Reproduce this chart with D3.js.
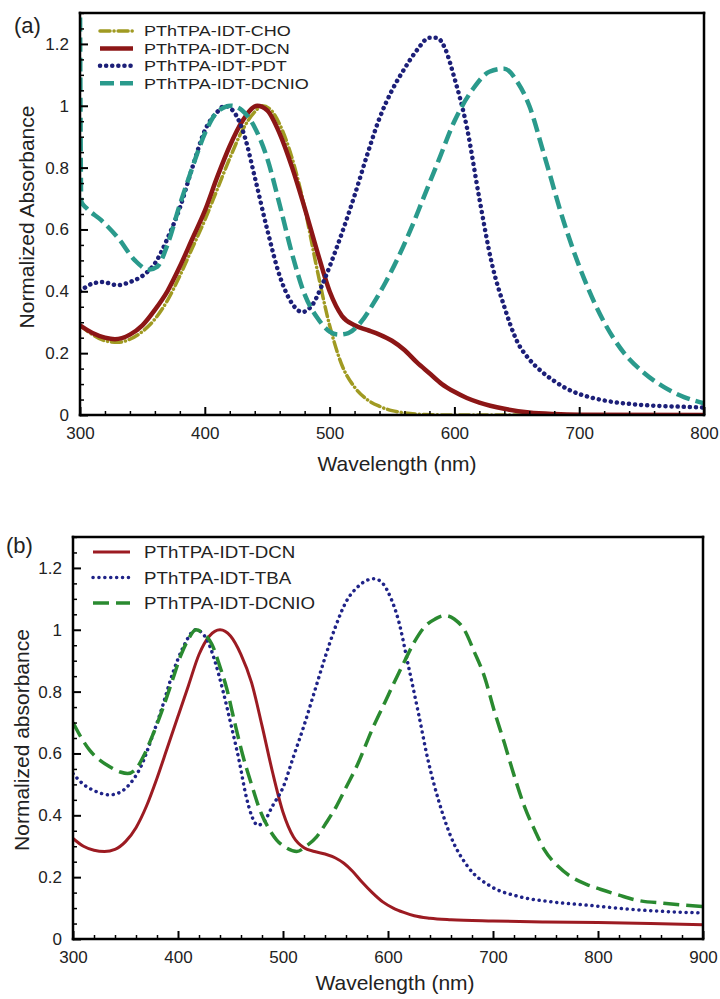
<!DOCTYPE html>
<html>
<head>
<meta charset="utf-8">
<script src="https://cdn.jsdelivr.net/npm/d3@7"></script>
<style>
  body { margin: 0; background: #fff; }
  svg text { font-family: "Liberation Sans", Arial, sans-serif; fill: #222; }
</style>
</head>
<body>
<script>
// ---- data: [wavelength nm, normalized absorbance]
const topCHO = [[300,0.29],[310,0.26],[320,0.24],[330,0.235],[340,0.245],[350,0.27],[360,0.31],[370,0.37],[380,0.45],[390,0.54],[400,0.63],[410,0.73],[420,0.83],[430,0.92],[440,0.98],[446,1.0],[452,0.99],[460,0.94],[470,0.83],[480,0.67],[490,0.47],[500,0.29],[510,0.16],[520,0.09],[530,0.05],[540,0.028],[550,0.014],[560,0.007],[575,0.002],[600,0],[800,0]]
const topDCN = [[300,0.29],[310,0.265],[320,0.25],[328,0.245],[340,0.26],[350,0.29],[360,0.34],[370,0.40],[380,0.48],[390,0.57],[400,0.66],[410,0.77],[420,0.87],[430,0.95],[442,1.0],[450,0.985],[460,0.91],[470,0.80],[480,0.67],[490,0.53],[500,0.40],[510,0.32],[520,0.29],[530,0.275],[540,0.26],[550,0.24],[560,0.21],[570,0.17],[580,0.135],[590,0.10],[600,0.075],[610,0.055],[620,0.04],[640,0.02],[660,0.008],[680,0.003],[700,0.001],[800,0]]
const topPDT = [[300,0.40],[310,0.425],[318,0.43],[330,0.42],[340,0.43],[350,0.45],[360,0.49],[370,0.57],[380,0.67],[390,0.80],[400,0.92],[410,0.98],[416,1.0],[425,0.97],[432,0.90],[440,0.77],[450,0.60],[460,0.45],[470,0.36],[478,0.333],[486,0.355],[494,0.42],[500,0.48],[510,0.59],[520,0.71],[530,0.84],[540,0.96],[550,1.05],[560,1.12],[570,1.18],[580,1.22],[586,1.22],[592,1.19],[600,1.09],[610,0.93],[620,0.70],[630,0.49],[640,0.35],[650,0.24],[660,0.18],[670,0.14],[680,0.11],[690,0.085],[700,0.068],[710,0.056],[720,0.047],[740,0.036],[760,0.03],[780,0.027],[800,0.024]]
const topDCNIO = [[300,1.35],[301,0.69],[305,0.67],[317,0.63],[331,0.57],[344,0.50],[355,0.47],[362,0.48],[370,0.55],[380,0.68],[390,0.80],[400,0.91],[410,0.98],[421,1.0],[430,0.985],[440,0.93],[450,0.83],[460,0.68],[470,0.52],[480,0.39],[490,0.315],[500,0.27],[507,0.26],[515,0.265],[525,0.30],[535,0.36],[545,0.43],[555,0.51],[565,0.60],[575,0.70],[588,0.83],[600,0.95],[615,1.055],[628,1.11],[640,1.12],[650,1.08],[660,1.0],[672,0.84],[688,0.62],[704,0.44],[720,0.30],[736,0.20],[752,0.136],[768,0.09],[784,0.058],[800,0.038]]

const botDCN = [[300,0.325],[310,0.30],[320,0.287],[330,0.283],[340,0.29],[350,0.315],[360,0.36],[370,0.43],[380,0.52],[390,0.62],[400,0.72],[410,0.82],[420,0.92],[430,0.98],[440,1.0],[450,0.98],[460,0.92],[470,0.83],[480,0.69],[490,0.54],[500,0.41],[510,0.33],[520,0.295],[530,0.283],[540,0.275],[550,0.262],[558,0.245],[566,0.22],[575,0.185],[585,0.15],[595,0.12],[605,0.1],[615,0.086],[625,0.075],[640,0.067],[660,0.062],[700,0.058],[750,0.055],[800,0.053],[850,0.05],[900,0.046]]
const botTBA = [[300,0.535],[310,0.50],[320,0.48],[335,0.466],[345,0.475],[355,0.505],[365,0.56],[375,0.65],[385,0.75],[395,0.86],[405,0.944],[417,1.0],[428,0.965],[435,0.90],[443,0.80],[450,0.70],[458,0.58],[465,0.46],[470,0.40],[476,0.368],[482,0.38],[490,0.43],[500,0.49],[510,0.59],[520,0.69],[530,0.80],[540,0.91],[550,1.01],[560,1.09],[570,1.135],[580,1.16],[587,1.165],[595,1.15],[603,1.10],[610,1.03],[619,0.89],[629,0.73],[638,0.58],[648,0.45],[660,0.33],[676,0.234],[698,0.17],[724,0.138],[756,0.12],[788,0.11],[835,0.095],[900,0.084]]
const botDCNIO = [[300,0.70],[308,0.65],[316,0.61],[325,0.58],[335,0.557],[345,0.54],[352,0.535],[360,0.55],[367,0.59],[376,0.66],[386,0.75],[395,0.84],[403,0.92],[410,0.97],[417,1.0],[425,0.985],[432,0.955],[440,0.88],[446,0.815],[454,0.70],[462,0.59],[470,0.50],[478,0.417],[486,0.36],[494,0.32],[503,0.295],[513,0.283],[522,0.30],[532,0.33],[541,0.375],[551,0.43],[560,0.49],[570,0.557],[586,0.686],[597,0.765],[606,0.83],[616,0.90],[625,0.96],[635,1.01],[645,1.035],[654,1.046],[663,1.035],[673,0.998],[682,0.93],[692,0.847],[701,0.74],[711,0.632],[720,0.53],[730,0.428],[740,0.35],[749,0.288],[762,0.235],[775,0.20],[789,0.177],[803,0.16],[820,0.142],[835,0.127],[865,0.115],[900,0.105]]

const topNames = ["PThTPA-IDT-CHO", "PThTPA-IDT-DCN", "PThTPA-IDT-PDT", "PThTPA-IDT-DCNIO"]
const botNames = ["PThTPA-IDT-DCN", "PThTPA-IDT-TBA", "PThTPA-IDT-DCNIO"]
const yTicks = [0, 0.2, 0.4, 0.6, 0.8, 1, 1.2]
const topXTicks = [300, 400, 500, 600, 700, 800]
const botXTicks = [300, 400, 500, 600, 700, 800, 900]

const W = 720, H = 999

const svg = d3.select("body").append("svg")
  .attr("width", W)
  .attr("height", H)

// one panel
function panel(opt) {
  const x = d3.scaleLinear().domain(opt.xDomain).range([opt.left, opt.right])
  const y = d3.scaleLinear().domain([0, 1.3]).range([opt.bottom, opt.top])
  const g = svg.append("g")

  g.append("clipPath").attr("id", opt.id)
    .append("rect")
    .attr("x", opt.left).attr("y", opt.top)
    .attr("width", opt.right - opt.left).attr("height", opt.bottom - opt.top)

  const line = d3.line()
    .x(d => x(d[0]))
    .y(d => y(d[1]))
    .curve(d3.curveMonotoneX)

  // curves
  opt.series.forEach(s => {
    g.append("path")
      .attr("clip-path", `url(#${opt.id})`)
      .attr("d", line(s.data))
      .attr("fill", "none")
      .attr("stroke", s.color)
      .attr("stroke-width", s.width)
      .attr("stroke-dasharray", s.dash || null)
      .attr("stroke-linecap", s.cap || "butt")
  })

  // minor ticks
  const xMinor = d3.range(opt.xDomain[0], opt.xDomain[1] + 1, 20).filter(v => v % 100 !== 0)
  const yMinor = d3.range(0, 1.3001, 0.05).filter(v => Math.abs(v / 0.2 - Math.round(v / 0.2)) > 0.01)

  g.append("g")
    .attr("transform", `translate(0,${opt.bottom})`)
    .call(d3.axisBottom(x).tickValues(xMinor).tickSize(-4).tickFormat(""))
    .call(a => a.select(".domain").remove())
    .selectAll("line").attr("stroke-width", 1.5)

  g.append("g")
    .attr("transform", `translate(${opt.left},0)`)
    .call(d3.axisLeft(y).tickValues(yMinor).tickSize(-4).tickFormat(""))
    .call(a => a.select(".domain").remove())
    .selectAll("line").attr("stroke-width", 1.5)

  // major ticks + labels
  const xa = g.append("g")
    .attr("transform", `translate(0,${opt.bottom})`)
    .call(d3.axisBottom(x).tickValues(opt.xTicks).tickSizeInner(-8).tickSizeOuter(0).tickPadding(12).tickFormat(d3.format("d")))
  xa.select(".domain").remove()
  xa.selectAll("line").attr("stroke-width", 2)
  xa.selectAll("text").attr("font-size", 17).attr("fill", "#222")

  const ya = g.append("g")
    .attr("transform", `translate(${opt.left},0)`)
    .call(d3.axisLeft(y).tickValues(yTicks).tickSizeInner(-8).tickSizeOuter(0).tickPadding(11).tickFormat(d => String(+d.toFixed(1))))
  ya.select(".domain").remove()
  ya.selectAll("line").attr("stroke-width", 2)
  ya.selectAll("text").attr("font-size", 17).attr("fill", "#222")

  // box round the plot, as four plain lines
  const box = [
    [opt.left, opt.top, opt.right, opt.top],
    [opt.right, opt.top, opt.right, opt.bottom],
    [opt.left, opt.bottom, opt.right, opt.bottom],
    [opt.left, opt.top, opt.left, opt.bottom]
  ]
  g.selectAll("line.frame")
    .data(box)
    .enter()
    .append("line")
    .attr("class", "frame")
    .attr("x1", d => d[0]).attr("y1", d => d[1])
    .attr("x2", d => d[2]).attr("y2", d => d[3])
    .attr("stroke", "#000")
    .attr("stroke-width", 2.5)
    .attr("stroke-linecap", "square")

  // axis titles
  g.append("text")
    .attr("x", opt.xTitleX).attr("y", opt.xTitleY)
    .attr("text-anchor", "middle").attr("font-size", 21)
    .text("Wavelength (nm)")

  g.append("text")
    .attr("transform", `translate(${opt.yTitleX},${opt.yTitleY}) rotate(-90)`)
    .attr("text-anchor", "middle").attr("font-size", 21)
    .text(opt.yTitle)

  // panel letter
  g.append("text")
    .attr("x", opt.labelX).attr("y", opt.labelY)
    .attr("font-size", 22)
    .text(opt.label)

  // legend
  opt.series.forEach((s, i) => {
    const ly = opt.legY + i * opt.legStep
    g.append("line")
      .attr("x1", opt.legX1).attr("x2", opt.legX2)
      .attr("y1", ly).attr("y2", ly)
      .attr("stroke", s.color)
      .attr("stroke-width", s.width)
      .attr("stroke-dasharray", s.dash || null)
      .attr("stroke-linecap", s.cap || "butt")
    const t = g.append("text")
      .attr("x", opt.legText).attr("y", ly + opt.legFont * 0.36)
      .attr("font-size", opt.legFont)
      .text(s.name)
    // the reference glyphs are a bit wider than Liberation Sans
    const len = t.node().getComputedTextLength()
    t.attr("textLength", len * opt.legStretch).attr("lengthAdjust", "spacingAndGlyphs")
  })
}

panel({
  id: "clipA", label: "(a)", labelX: 14, labelY: 33,
  xDomain: [300, 800], xTicks: topXTicks,
  left: 80, right: 704, top: 13, bottom: 415,
  xTitleX: 397, xTitleY: 471,
  yTitle: "Normalized Absorbance", yTitleX: 34, yTitleY: 217,
  legX1: 100, legX2: 133, legText: 144, legY: 31, legStep: 17.4,
  legFont: 15, legStretch: 1.2,
  series: [
    { name: topNames[0], data: topCHO, color: "#a09a22", width: 3.5, dash: "10,4,0.1,4", cap: "round" },
    { name: topNames[1], data: topDCN, color: "#8c1616", width: 4.5 },
    { name: topNames[2], data: topPDT, color: "#1c1f78", width: 4.5, dash: "0.1,6", cap: "round" },
    { name: topNames[3], data: topDCNIO, color: "#2a9a8c", width: 4.5, dash: "14,6" }
  ]
})

panel({
  id: "clipB", label: "(b)", labelX: 6, labelY: 553,
  xDomain: [300, 900], xTicks: botXTicks,
  left: 73, right: 703, top: 537, bottom: 939,
  xTitleX: 395, xTitleY: 990,
  yTitle: "Normalized absorbance", yTitleX: 29, yTitleY: 740,
  legX1: 93, legX2: 130, legText: 144, legY: 552, legStep: 25.5,
  legFont: 17, legStretch: 1.1,
  series: [
    { name: botNames[0], data: botDCN, color: "#9c1b22", width: 3 },
    { name: botNames[1], data: botTBA, color: "#1f2388", width: 3.5, dash: "0.1,5.8", cap: "round" },
    { name: botNames[2], data: botDCNIO, color: "#2a8a30", width: 3.5, dash: "16,7" }
  ]
})
</script>
</body>
</html>
